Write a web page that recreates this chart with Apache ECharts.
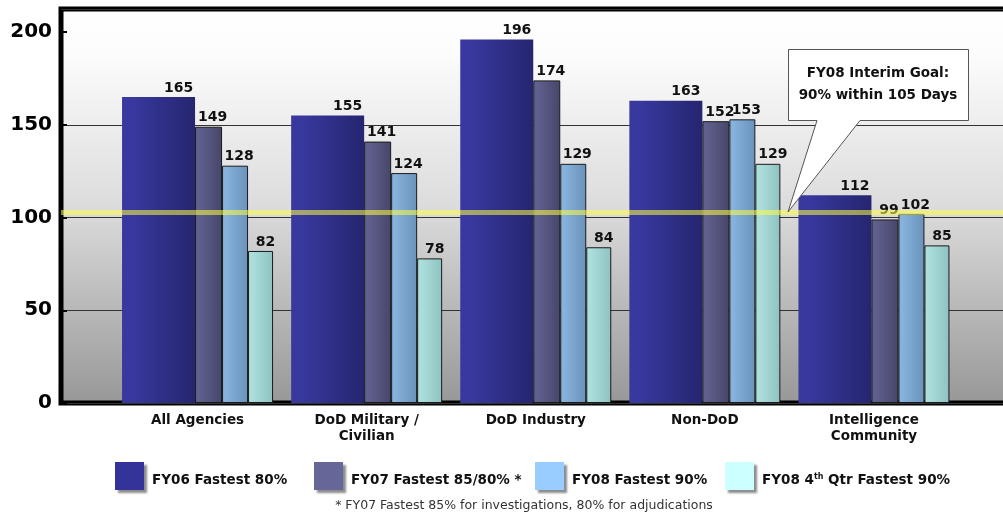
<!DOCTYPE html>
<html>
<head>
<meta charset="utf-8">
<script src="https://cdn.jsdelivr.net/npm/echarts@6/dist/echarts.min.js"></script>
<style>
html,body{margin:0;padding:0;background:#fff;}
#c{width:1003px;height:514px;}
</style>
</head>
<body>
<div id="c"></div>
<script>
const categories = ['All Agencies', 'DoD Military /\nCivilian', 'DoD Industry', 'Non-DoD', 'Intelligence\nCommunity'];
const seriesNames = ['FY06 Fastest 80%', 'FY07 Fastest 85/80% *', 'FY08 Fastest 90%', 'FY08 4th Qtr Fastest 90%'];
const fy06 = [165, 155, 196, 163, 112];
const fy07 = [149, 141, 174, 152, 99];
const fy08 = [128, 124, 129, 153, 102];
const fy08q4 = [82, 78, 84, 129, 85];
const yMin = 0, yMax = 212.5, yInterval = 50;
const goalValue = 103;
const calloutLines = ['FY08 Interim Goal:', '90% within 105 Days'];
const footnote = '* FY07 Fastest 85% for investigations, 80% for adjudications';

const chart = echarts.init(document.getElementById('c'), null, {renderer: 'canvas'});
const G = echarts.graphic.LinearGradient;
const boldFont = 'DejaVu Sans';

function grad(a, b) { return new G(0, 0, 1, 0, [{offset: 0, color: a}, {offset: 0.15, color: a}, {offset: 1, color: b}]); }

const barDefs = [
  {data: fy06, width: 73, color: grad('#38389e', '#252570'), border: 0, legend: '#333399', off: 20},
  {data: fy07, width: 27, color: grad('#60608e', '#46466a'), border: 1, legend: '#666699', off: 4},
  {data: fy08, width: 26, color: grad('#86b2dc', '#6a92ba'), border: 1, legend: '#99ccff', off: 4},
  {data: fy08q4, width: 25, color: grad('#acdfdc', '#8ec2c2'), border: 1, legend: '#ccffff', off: 5}
];
const legendLefts = [115, 314, 535, 725];

const series = barDefs.map((d, i) => ({
  name: seriesNames[i],
  type: 'bar',
  xAxisIndex: 1, yAxisIndex: 1,
  data: d.data,
  barWidth: d.width,
  barGap: '0%',
  itemStyle: {color: d.color, borderColor: '#1a1a1a', borderWidth: d.border},
  label: {
    show: true, position: 'top', distance: 2, offset: [d.off, 0],
    fontFamily: boldFont, fontWeight: 'bold', fontSize: 14, color: '#111'
  }
}));
series.push({
  type: 'line', xAxisIndex: 0, yAxisIndex: 0, data: [], z: 6, silent: true,
  markLine: {
    symbol: 'none', silent: true, label: {show: false},
    lineStyle: {color: 'rgba(255,255,70,0.55)', width: 5, type: 'solid'},
    data: [{yAxis: goalValue}]
  }
});

const legends = seriesNames.map((n, i) => ({
  left: legendLefts[i], top: 462, padding: 0, icon: 'rect', itemWidth: 29, itemHeight: 28,
  selectedMode: false,
  data: [{name: n, itemStyle: {color: barDefs[i].legend, borderWidth: 0, shadowColor: 'rgba(0,0,0,0.45)', shadowBlur: 2, shadowOffsetX: 3, shadowOffsetY: 3}}],
  formatter: i === 3 ? () => '{a|FY08 4}{s|th}{a| Qtr Fastest 90%}' : undefined,
  textStyle: {
    fontFamily: boldFont, fontWeight: 'bold', fontSize: 13.5, color: '#111', padding: [8, 0, 0, 3],
    rich: {
      a: {fontFamily: boldFont, fontWeight: 'bold', fontSize: 13.5, color: '#111'},
      s: {fontFamily: boldFont, fontWeight: 'bold', fontSize: 8, color: '#111', padding: [0, 0, 7, 0]}
    }
  }
}));

chart.setOption({
  animation: false,
  grid: [
    {left: 61, top: 9, right: -40, height: 394, show: true, borderColor: '#000', borderWidth: 5, outerBoundsMode: 'none',
     backgroundColor: new G(0, 0, 0, 1, [{offset: 0, color: '#ffffff'}, {offset: 0.12, color: '#fcfcfc'}, {offset: 0.5, color: '#dcdcdc'}, {offset: 1, color: '#979797'}])},
    {left: 113, top: 9, width: 845.5, height: 394, outerBoundsMode: 'none'}
  ],
  xAxis: [
    {type: 'value', gridIndex: 0, min: 0, max: 1, show: false},
    {type: 'category', gridIndex: 1, data: categories, axisLine: {show: false}, axisTick: {show: false},
     axisLabel: {margin: 9, fontFamily: boldFont, fontWeight: 'bold', fontSize: 13.5, lineHeight: 16, color: '#111'}}
  ],
  yAxis: [
    {type: 'value', gridIndex: 0, min: yMin, max: yMax, interval: yInterval,
     axisLine: {show: false},
     axisTick: {show: true, inside: true, length: 6, lineStyle: {color: '#000', width: 2}},
     axisLabel: {showMaxLabel: false, margin: 9, fontFamily: boldFont, fontWeight: 'bold', fontSize: 20, color: '#000'},
     splitLine: {show: true, lineStyle: {color: ['#333', '#333', '#333', '#333', 'rgba(0,0,0,0)', '#333'], width: 1}}},
    {type: 'value', gridIndex: 1, min: yMin, max: yMax, show: false, splitLine: {show: false}}
  ],
  legend: legends,
  series: series
});

const tipY = chart.convertToPixel({yAxisIndex: 0}, goalValue);
const tipX = 788;
chart.setOption({
  graphic: [
    {type: 'polygon', z: 100,
     shape: {points: [[788.5, 49.5], [968.5, 49.5], [968.5, 120.5], [860, 120.5], [tipX, tipY], [817, 120.5], [788.5, 120.5]]},
     style: {fill: '#fff', stroke: '#555', lineWidth: 1}},
    {type: 'text', z: 101, x: 878, y: 73,
     style: {text: calloutLines[0], fill: '#111', font: 'bold 13.5px "DejaVu Sans"', textAlign: 'center', textVerticalAlign: 'middle'}},
    {type: 'text', z: 101, x: 878, y: 95,
     style: {text: calloutLines[1], fill: '#111', font: 'bold 13.5px "DejaVu Sans"', textAlign: 'center', textVerticalAlign: 'middle'}},
    {type: 'text', z: 101, x: 524, y: 506,
     style: {text: footnote, fill: '#333', font: '12.5px "DejaVu Sans"', textAlign: 'center', textVerticalAlign: 'middle'}}
  ]
});
</script>
</body>
</html>
